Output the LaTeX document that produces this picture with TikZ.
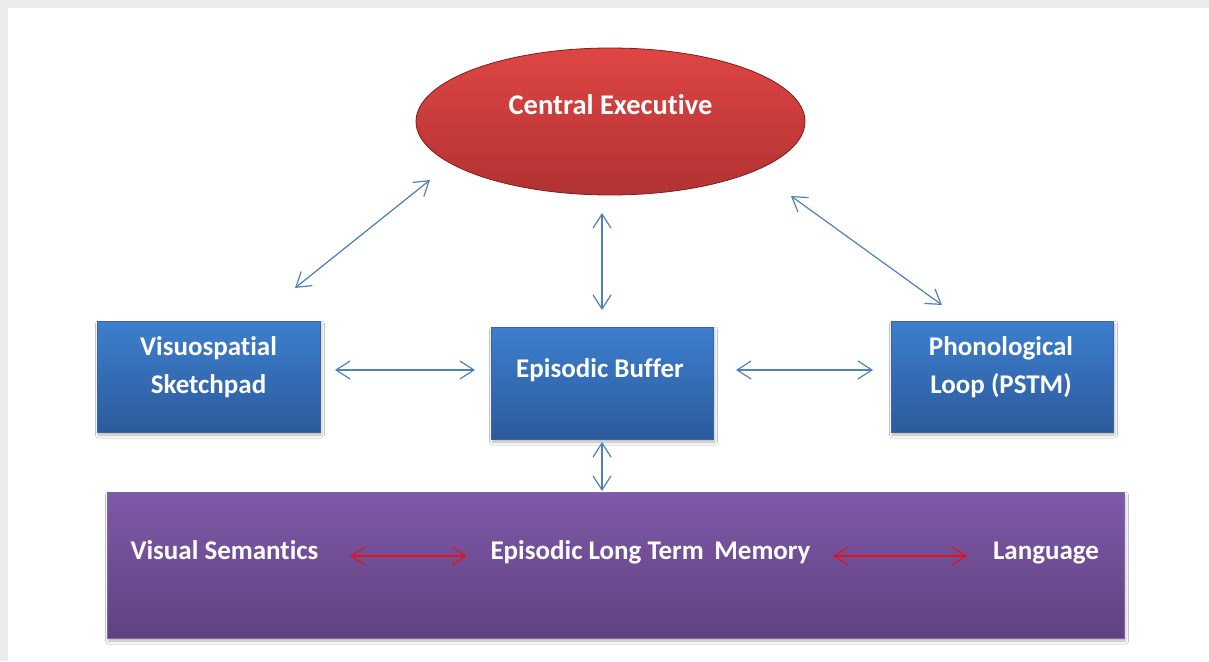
\documentclass[tikz,border=0pt]{standalone}
\usepackage{fontspec}
\setmainfont{Carlito}[Ligatures=NoCommon]
\usetikzlibrary{arrows.meta,shapes.geometric,shadows.blur}

\definecolor{bluetop}{RGB}{61,127,206}
\definecolor{bluebot}{RGB}{44,90,156}
\definecolor{blueedge}{RGB}{60,100,160}
\definecolor{purptop}{RGB}{127,89,168}
\definecolor{purpbot}{RGB}{95,66,128}
\definecolor{purpedge}{RGB}{130,100,170}
\definecolor{redtop}{RGB}{222,70,68}
\definecolor{redbot}{RGB}{178,50,50}
\definecolor{redrim}{RGB}{130,28,28}
\definecolor{linkblue}{RGB}{79,129,189}
\definecolor{linkred}{RGB}{226,18,30}
\definecolor{framegray}{RGB}{236,236,236}

\tikzset{
  vtip/.tip={Straight Barb[length=14pt, width=18pt, line width=1.2pt]},
  softshadow/.style={blur shadow={shadow xshift=1.5pt, shadow yshift=-3pt,
      shadow blur steps=6, shadow blur radius=3pt, shadow opacity=30}},
  bluebox/.style={rectangle, draw=blueedge, line width=0.5pt,
      top color=bluetop, bottom color=bluebot, softshadow, inner sep=0pt},
  purplebox/.style={rectangle, draw=purpedge, line width=0.5pt,
      top color=purptop, bottom color=purpbot, softshadow, inner sep=0pt},
  redoval/.style={ellipse, draw=redrim, line width=0.8pt,
      top color=redtop, bottom color=redbot, inner sep=0pt},
  lbl/.style={text=white, font=\fontsize{27}{38}\selectfont\bfseries,
      align=center, inner sep=0pt},
  bluelink/.style={draw=linkblue, line width=1.2pt, vtip-vtip},
  redlink/.style={draw=linkred, line width=1.2pt, vtip-vtip},
}

\begin{document}
\begin{tikzpicture}[x=1pt, y=-1pt]
  % page with a light frame on the top and left edges
  \fill[framegray] (0,0) rectangle (1209,661);
  \fill[white] (8,8) rectangle (1209,661);
  \useasboundingbox (0,0) rectangle (1209,661);

  % central executive
  \node[redoval, minimum width=389pt, minimum height=147pt] (ce) at (610.5,121.5) {};
  \node[lbl, font=\fontsize{28.5}{38}\selectfont\bfseries, anchor=base]
    (ce-t) at (610.5,114) {Central Executive};

  % the three stores (anchor base = baseline of the last line)
  \node[bluebox, minimum width=223pt, minimum height=111pt] (vsk) at (208.5,376.5) {};
  \node[lbl, anchor=base] (vsk-t) at (208.5,393) {Visuospatial\\Sketchpad};

  \node[bluebox, minimum width=222pt, minimum height=112pt] (eb) at (602,383) {};
  \node[lbl, anchor=base] (eb-t) at (600,377) {Episodic Buffer};

  \node[bluebox, minimum width=222pt, minimum height=111pt] (pl) at (1002,376.5) {};
  \node[lbl, anchor=base] (pl-t) at (1001,393) {Phonological\\Loop (PSTM)};

  % long term memory band
  \node[purplebox, minimum width=1017pt, minimum height=146pt] (ltm) at (615.5,565) {};
  \node[lbl, anchor=base] (vs-t) at (224.5,559) {Visual Semantics};
  \node[lbl, anchor=base] (eltm-t) at (650.5,559) {Episodic Long Term\ \,Memory};
  \node[lbl, anchor=base] (lang-t) at (1046,559) {Language};

  % connector end points
  \coordinate (ce-sw) at (430,180);
  \coordinate (vsk-ne) at (295,288);
  \coordinate (ce-s) at (602,213);
  \coordinate (eb-n) at (602,310);
  \coordinate (ce-se) at (791,196);
  \coordinate (pl-nw) at (942,305);
  \coordinate (vsk-e) at (335,370);
  \coordinate (eb-w) at (475,370);
  \coordinate (eb-e) at (736,370);
  \coordinate (pl-w) at (873,370);
  \coordinate (eb-s) at (602,442);
  \coordinate (ltm-n) at (602,491);
  \coordinate (vs-e) at (350,556);
  \coordinate (eltm-w) at (467,556);
  \coordinate (eltm-e) at (833,556);
  \coordinate (lang-w) at (967,556);

  % connectors
  \draw[bluelink] (vsk-ne) -- (ce-sw);
  \draw[bluelink] (eb-n) -- (ce-s);
  \draw[bluelink] (pl-nw) -- (ce-se);
  \draw[bluelink] (vsk-e) -- (eb-w);
  \draw[bluelink] (eb-e) -- (pl-w);
  \draw[bluelink] (eb-s) -- (ltm-n);
  \draw[redlink] (vs-e) -- (eltm-w);
  \draw[redlink] (eltm-e) -- (lang-w);
\end{tikzpicture}
\end{document}
